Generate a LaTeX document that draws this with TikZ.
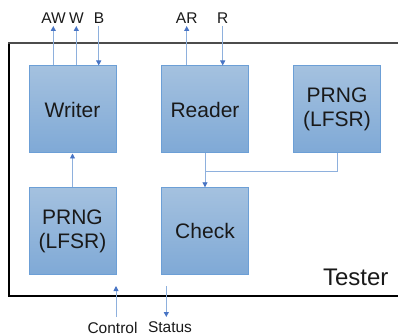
\documentclass[tikz,border=0pt]{standalone}
\usepackage{fontspec}
\setmainfont{Liberation Sans}
\usetikzlibrary{arrows.meta}
\definecolor{boxtop}{HTML}{A4C1DF}
\definecolor{boxbot}{HTML}{7FA9D6}
\definecolor{boxedge}{HTML}{6C9FD6}
\definecolor{wire}{HTML}{8EB0DD}
\definecolor{tip}{HTML}{4874C4}
\tikzset{
  block/.style={rectangle, minimum width=87pt, minimum height=87pt, inner sep=0pt,
    top color=boxtop, bottom color=boxbot, draw=boxedge, line width=1pt,
    align=center, font=\fontsize{21}{24}\selectfont, text=black!90},
  wireline/.style={draw=wire, line width=0.9pt},
  sig/.style={wireline, -{Triangle[length=5pt,width=5pt,color=tip,fill=tip]}},
  pin/.style={font=\fontsize{15.5}{17}\selectfont, inner sep=0pt, text=black!90}
}
\begin{document}
\begin{tikzpicture}[x=1pt,y=-1pt]
\useasboundingbox (0,0) rectangle (398,336);
% tester frame
\draw[line width=1.3pt, black] (399,296) -- (9,296) -- (9,43);
\draw[line width=2pt, black!70] (8,43) -- (399,43);
\node[font=\fontsize{24}{27}\selectfont, inner sep=0pt, text=black!90] (tester) at (355.7,277.5) {Tester};

% blocks
\node[block] (writer) at (72.5,109.5) {Writer};
\node[block] (reader) at (205,109.5) {Reader};
\node[block] (prngR) at (337,109.5) {PRNG\\(LFSR)};
\node[block] (prngL) at (72.5,231.3) {PRNG\\(LFSR)};
\node[block] (check) at (205,231.3) {Check};

% pin labels
\node[pin] (lAW) at (53.5,18) {AW};
\node[pin] (lW) at (76.5,18) {W};
\node[pin] (lB) at (99,18) {B};
\node[pin] (lAR) at (186.7,18) {AR};
\node[pin] (lR) at (222.7,18) {R};
\node[pin] (lCtl) at (112.5,327.5) {Control};
\node[pin] (lSt) at (170,327.5) {Status};

\coordinate (tAW) at (53.3,26);
\coordinate (tW) at (76.3,26);
\coordinate (tB) at (98.7,26);
\coordinate (tAR) at (186.7,26);
\coordinate (tR) at (222.7,26);
\coordinate (join) at (205,171);
\coordinate (ctlA) at (116,317);
\coordinate (ctlB) at (116,286);
\coordinate (stA) at (166.3,286);
\coordinate (stB) at (166.3,317);

% ports
\draw[sig] (writer.north -| tAW) -- (tAW);
\draw[sig] (writer.north -| tW) -- (tW);
\draw[sig] (tB) -- (writer.north -| tB);
\draw[sig] (reader.north -| tAR) -- (tAR);
\draw[sig] (tR) -- (reader.north -| tR);
\draw[sig] (prngL.north) -- (writer.south);
\draw[wireline] (reader.south) -- (join);
\draw[wireline] (prngR.south) |- (join);
\draw[sig] (join) -- (check.north);
\draw[sig] (ctlA) -- (ctlB);
\draw[sig] (stA) -- (stB);
\end{tikzpicture}
\end{document}
